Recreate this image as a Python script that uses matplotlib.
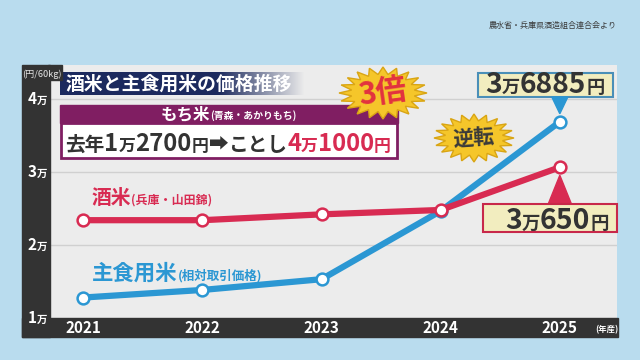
import numpy as np
import matplotlib.pyplot as plt
from matplotlib.patches import Rectangle, Polygon
from matplotlib.transforms import Affine2D

plt.rcParams['font.family'] = ['Noto Sans CJK JP', 'DejaVu Sans']

# data (円/60kg)
years = [2021, 2022, 2023, 2024, 2025]
sakamai = [23400, 23400, 24200, 24800, 30650]      # 酒米(兵庫・山田錦)
shushoku = [12804, 13844, 15315, 24665, 36885]     # 主食用米(相対取引価格)
y_ticks = [10000, 20000, 30000, 40000]
y_tick_labels = ['1', '2', '3', '4']

RED = '#d82b52'
BLUE = '#2b97d3'
DARK = '#333333'
PURPLE = '#801e62'

fig = plt.figure(figsize=(6.4, 3.6), dpi=100)
fig.patch.set_facecolor('#b9dcee')
W, H = 640, 360
# pixel coords, origin top-left
px = Affine2D().scale(1 / W, -1 / H).translate(0, 1) + fig.transFigure
renderer = fig.canvas.get_renderer()


def rect(x0, y0, x1, y1, **kw):
    fig.patches.append(Rectangle((x0, y0), x1 - x0, y1 - y0, transform=px, **kw))


def rich(x, y, parts, ha='left', fit=None, bold=True, zorder=6):
    # parts: (text, size, color); drawn side by side on one baseline
    texts = []
    for s, size, color in parts:
        t = fig.text(0, 0, s, fontsize=size, color=color, transform=px, va='baseline',
                     fontweight='bold' if bold else 'normal', zorder=zorder)
        texts.append(t)
    widths = [t.get_window_extent(renderer).width for t in texts]
    if fit is not None:
        k = fit / sum(widths)
        for t in texts:
            t.set_fontsize(t.get_fontsize() * k)
        widths = [t.get_window_extent(renderer).width for t in texts]
    total = sum(widths)
    if ha == 'center':
        x -= total / 2
    elif ha == 'right':
        x -= total
    for t, w in zip(texts, widths):
        t.set_position((x, y))
        x += w
    return total


def burst(cx, cy, rx, ry, n=20, inner=0.72, **kw):
    a = np.linspace(0, 2 * np.pi, 2 * n, endpoint=False)
    r = np.where(np.arange(2 * n) % 2 == 0, 1.0, inner)
    pts = np.column_stack([cx + rx * r * np.cos(a), cy + ry * r * np.sin(a)])
    fig.patches.append(Polygon(pts, closed=True, transform=px, **kw))


# plot area
ax = fig.add_axes([50 / W, 42 / H, 567 / W, 253 / H])
ax.set_zorder(-2)
ax.set_facecolor('#ececec')
ax.set_xlim(2020.72, 2025.48)
ax.set_ylim(10000, 44660)
for s in ax.spines.values():
    s.set_visible(False)
ax.set_xticks([])
ax.set_yticks([])
for v in y_ticks[1:]:
    ax.axhline(v, color='#d0d0d0', lw=1, zorder=1)

ax.plot(years, shushoku, color=BLUE, lw=4.5, marker='o', ms=8.5, mfc='white',
        mec=BLUE, mew=1.8, zorder=3)
ax.plot(years, sakamai, color=RED, lw=4.5, marker='o', ms=8.5, mfc='white',
        mec=RED, mew=1.8, zorder=4)


def to_px(x, y):
    d = ax.transData.transform((x, y))
    return d[0], H - d[1]


# dark frame strips
rect(22, 65, 50, 337, color='#333333', zorder=2)
rect(22, 318, 618, 337, color='#333333', zorder=2)
rect(48, 65, 62, 80, color='#333333', zorder=2)

# y tick labels
for v, lab in zip(y_ticks, y_tick_labels):
    _, py = to_px(2021, v)
    rich(28, py + 5, [(lab, 11, 'white'), ('万', 7.5, 'white')])

# x tick labels
for yr in years:
    xx, _ = to_px(yr, 10000)
    rich(xx, 333, [(str(yr), 11, 'white')], ha='center')
rich(595, 332, [('(年産)', 6, 'white')])

# source
rich(617, 28, [('農水省・兵庫県酒造組合連合会より', 5.8, '#3a3a3a')], ha='right', bold=False)

# title with fading navy box
tax = fig.add_axes([60 / W, (H - 95) / H, 245 / W, 23 / H])
tax.set_zorder(-1)
tax.axis('off')
grad = np.zeros((1, 256, 4))
grad[..., 0], grad[..., 1], grad[..., 2] = 0x1c / 255, 0x2a / 255, 0x5e / 255
xs = np.linspace(0, 1, 256)
grad[..., 3] = np.clip((1 - xs) / 0.35, 0, 1)
tax.imshow(grad, aspect='auto', extent=[0, 1, 0, 1])
tax.set_xlim(0, 1)
tax.set_ylim(0, 1)
rich(66, 90, [('酒米と主食用米の価格推移', 13.5, 'white')], fit=226)
rich(22, 77, [('(円/60kg)', 6, '#e6e6e6')], fit=39, bold=False, zorder=8)

# もち米 box
rect(60, 105, 398, 123, color=PURPLE, zorder=3)
rect(61, 123, 397, 158, facecolor='white', edgecolor=PURPLE, lw=2, zorder=3)
rich(229, 119, [('もち米', 12.5, 'white'), ('(青森・あかりもち)', 7.5, 'white')],
     ha='center', fit=136)
rich(228, 151, [('去年', 14, DARK), ('1', 17, DARK), ('万', 12, DARK), ('2700', 17, DARK),
                ('円', 12, DARK), ('➡', 14, DARK), ('ことし', 14, DARK),
                ('4', 17, RED), ('万', 12, RED), ('1000', 17, RED), ('円', 12, RED)],
     ha='center', fit=326)

# series labels
rich(92, 204, [('酒米', 14, RED), ('(兵庫・山田錦)', 8.5, RED)], fit=120)
rich(92, 280, [('主食用米', 14.5, BLUE), ('(相対取引価格)', 8.5, BLUE)], fit=170)

# 3倍 burst
burst(383, 93, 44, 26, facecolor='#f5c62a', edgecolor='#d9a514', lw=1, zorder=4)
fig.text(383, 93, '3倍', fontsize=22, color='#e2323f', fontweight='bold', rotation=8,
         ha='center', va='center', transform=px, zorder=6)

# 逆転 burst
burst(474, 138, 40, 24, facecolor='#f5c62a', edgecolor='#d9a514', lw=1, zorder=4)
fig.text(474, 138, '逆転', fontsize=15, color='#3a3a3a', fontweight='bold', rotation=4,
         ha='center', va='center', transform=px, zorder=6)

# 3万6885円 callout
bx, by = to_px(years[-1], shushoku[-1])
rect(bx - 82, 73, bx + 53, 97, facecolor='#f2edbf', edgecolor='#4a8fb8', lw=1.5, zorder=5)
fig.patches.append(Polygon([(bx - 8, 97), (bx + 8, 97), (bx, by - 8)], closed=True,
                           transform=px, color=BLUE, zorder=5))
rich(bx - 15, 93, [('3', 17, DARK), ('万', 11, DARK), ('6885', 17, DARK), ('円', 11, DARK)],
     ha='center', fit=120)

# 3万650円 callout
rx_, ry_ = to_px(years[-1], sakamai[-1])
fig.patches.append(Polygon([(rx_ - 12, 205), (rx_ + 12, 205), (rx_, ry_ + 8)], closed=True,
                           transform=px, color=RED, zorder=5))
rect(rx_ - 77, 204, rx_ + 57, 232, facecolor='#f2edbf', edgecolor='#c8284a', lw=1.5, zorder=5)
rich(rx_ - 3, 229, [('3', 17, DARK), ('万', 11, DARK), ('650', 17, DARK), ('円', 11, DARK)],
     ha='center', fit=104)

fig.savefig('out.png', dpi=100, facecolor=fig.get_facecolor())
